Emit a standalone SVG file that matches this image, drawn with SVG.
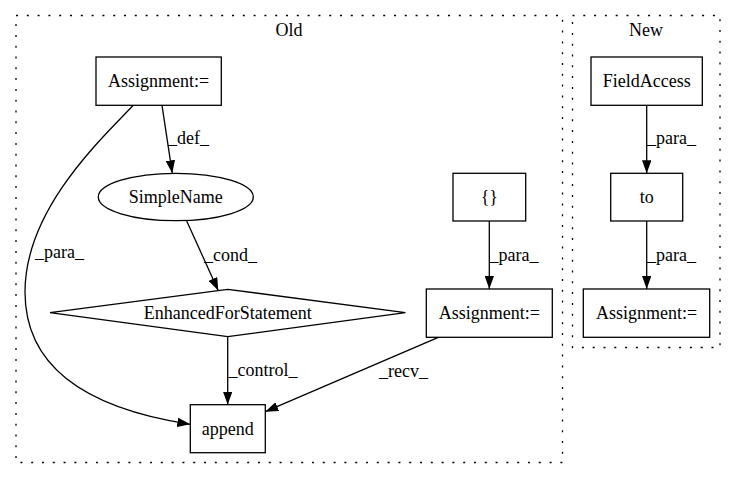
<svg xmlns="http://www.w3.org/2000/svg" width="736" height="480" viewBox="0 0 736 480">
<style>
  text { font-family: "Liberation Serif", "Times New Roman", serif; font-size: 18px; fill: #000; }
  .lbl { text-anchor: middle; }
  .el { text-anchor: start; }
  .node { fill: none; stroke: #000; stroke-width: 1.3; }
  .edge { fill: none; stroke: #000; stroke-width: 1.3; marker-end: url(#arr); }
  .cluster { fill: none; stroke: #000; stroke-width: 1.3; stroke-dasharray: 2 8.8; }
</style>
<defs>
  <marker id="arr" viewBox="0 0 13 9.4" refX="13" refY="4.7" markerWidth="13" markerHeight="9.4" markerUnits="userSpaceOnUse" orient="auto">
    <path d="M0,0 L13,4.7 L0,9.4 z" fill="#000"/>
  </marker>
</defs>
<rect width="736" height="480" fill="#fff"/>

<g id="cluster_old">
  <rect class="cluster" x="16" y="15.5" width="546.5" height="447"/>
  <text class="lbl" x="289" y="36">Old</text>
</g>
<g id="cluster_new">
  <rect class="cluster" x="572.5" y="15.5" width="147.5" height="332"/>
  <text class="lbl" x="646" y="36">New</text>
</g>

<g id="connectors">
  <path class="edge" d="M162,105.3 L172.3,173.3"/>
  <text class="el" x="168" y="144">_def_</text>
  <path class="edge" d="M133.3,105.3 C100,140 25,210 25,292 C25,380 110,412 190.3,424.3"/>
  <text class="el" x="35" y="258">_para_</text>
  <path class="edge" d="M186.7,221 L218.3,290.7"/>
  <text class="el" x="204" y="260.5">_cond_</text>
  <path class="edge" d="M227.7,336.7 L227.7,404.7"/>
  <text class="el" x="228.5" y="376">_control_</text>
  <path class="edge" d="M489.3,221 L489.3,289"/>
  <text class="el" x="489.5" y="260.5">_para_</text>
  <path class="edge" d="M438.3,337.3 L265.3,411.7"/>
  <text class="el" x="379" y="376.5">_recv_</text>
  <path class="edge" d="M646.7,105.3 L646.7,173.3"/>
  <text class="el" x="647" y="144">_para_</text>
  <path class="edge" d="M646.7,221 L646.7,289"/>
  <text class="el" x="647" y="260.5">_para_</text>
</g>

<g id="node_assign_top">
  <rect class="node" x="96" y="57" width="125.3" height="48.3"/>
  <text class="lbl" x="158.7" y="86.5">Assignment:=</text>
</g>
<g id="node_simplename">
  <ellipse class="node" cx="175.8" cy="197" rx="77.5" ry="23.7"/>
  <text class="lbl" x="175.8" y="203">SimpleName</text>
</g>
<g id="node_efs">
  <polygon class="node" points="227.7,289.3 405.4,312.7 227.7,336.7 50,312.7"/>
  <text class="lbl" x="227.7" y="319">EnhancedForStatement</text>
</g>
<g id="node_append">
  <rect class="node" x="190.3" y="404.7" width="75" height="48"/>
  <text class="lbl" x="227.8" y="434.5">append</text>
</g>
<g id="node_braces">
  <rect class="node" x="453" y="173.3" width="72.7" height="47.7"/>
  <text class="lbl" x="489.3" y="203">{}</text>
</g>
<g id="node_assign_old_right">
  <rect class="node" x="426.3" y="289" width="126" height="48.3"/>
  <text class="lbl" x="489.3" y="319">Assignment:=</text>
</g>
<g id="node_fieldaccess">
  <rect class="node" x="591" y="57" width="111.3" height="48.3"/>
  <text class="lbl" x="646.7" y="86.5">FieldAccess</text>
</g>
<g id="node_to">
  <rect class="node" x="610.7" y="173.3" width="72" height="47.7"/>
  <text class="lbl" x="646.7" y="203">to</text>
</g>
<g id="node_assign_new">
  <rect class="node" x="583.3" y="289" width="126.4" height="48.3"/>
  <text class="lbl" x="646.5" y="319">Assignment:=</text>
</g>
</svg>
